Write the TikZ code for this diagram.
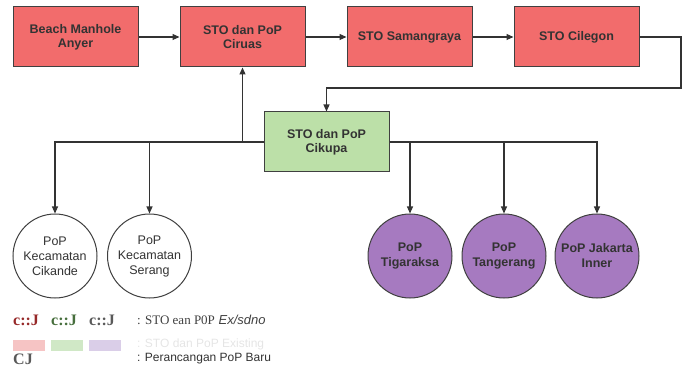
\documentclass[tikz,border=0pt]{standalone}
\usepackage{fontspec}
\setmainfont{Liberation Sans}
\newfontfamily\legserif{Liberation Serif}
\usetikzlibrary{arrows.meta}
\definecolor{stored}{RGB}{242,108,108}
\definecolor{hubgreen}{RGB}{188,224,168}
\definecolor{popviolet}{RGB}{166,122,192}
\definecolor{legpink}{RGB}{246,196,196}
\definecolor{leggreen}{RGB}{208,232,198}
\definecolor{legviolet}{RGB}{218,206,232}
\tikzset{
 stobox/.style={draw=black!75,line width=1pt,fill=stored,minimum width=125pt,minimum height=60pt,align=center,font=\bfseries\fontsize{12.5}{14}\selectfont,text=black!80},
 hubbox/.style={stobox,fill=hubgreen},
 popw/.style={circle,draw=black!75,line width=1pt,fill=white,minimum size=84pt,align=center,inner sep=0pt,font=\fontsize{12.5}{15}\selectfont,text=black!80},
 popv/.style={popw,fill=popviolet,font=\bfseries\fontsize{12.5}{15}\selectfont},
 link/.style={draw=black!80,line width=1.1pt,-{Triangle[length=7pt,width=6pt]}},
 legbox/.style={minimum width=32pt,minimum height=11pt,inner sep=0pt}
}
\begin{document}
\begin{tikzpicture}[x=1pt,y=-1pt]
 \useasboundingbox (0,0) rectangle (688,374);
 %top row
 \node[stobox] (anyer) at (75.5,37) {Beach Manhole\\Anyer};
 \node[stobox] (ciruas) at (242.5,37) {STO dan PoP\\Ciruas};
 \node[stobox] (samang) at (409.5,37) {STO Samangraya};
 \node[stobox] (cilegon) at (576.5,37) {STO Cilegon};
 \draw[link] (anyer) -- (ciruas);
 \draw[link] (ciruas) -- (samang);
 \draw[link] (samang) -- (cilegon);
 %hub
 \node[hubbox] (cikupa) at (326.5,142) {STO dan PoP\\Cikupa};
 \coordinate (turn) at (681,88);
 \draw[link] (cilegon.east) -| (turn) -| (cikupa.north);
 \draw[link] (cikupa.west -| ciruas) -- (ciruas.south);
 %pop
 \node[popw] (cikande) at (55,256) {PoP\\Kecamatan\\Cikande};
 \node[popw] (serang) at (149.5,256) {PoP\\Kecamatan\\Serang};
 \node[popv] (tigaraksa) at (410,256) {PoP\\Tigaraksa};
 \node[popv] (tangerang) at (504,256) {PoP\\Tangerang};
 \node[popv] (jakarta) at (597,256) {PoP Jakarta\\Inner};
 \draw[link] (cikupa.west) -| (cikande.north);
 \draw[link] (cikupa.west) -| (serang.north);
 \draw[link] (cikupa.east) -| (tigaraksa.north);
 \draw[link] (cikupa.east) -| (tangerang.north);
 \draw[link] (cikupa.east) -| (jakarta.north);
 %legend
 \node[anchor=west,inner sep=0pt,font=\legserif\bfseries\fontsize{16}{16}\selectfont,text={rgb,255:red,150;green,40;blue,40}] (lgone) at (13,320) {c::J};
 \node[anchor=west,inner sep=0pt,font=\legserif\bfseries\fontsize{16}{16}\selectfont,text={rgb,255:red,70;green,110;blue,60}] (lgtwo) at (51,320) {c::J};
 \node[anchor=west,inner sep=0pt,font=\legserif\bfseries\fontsize{16}{16}\selectfont,text=black!65] (lgthree) at (89,320) {c::J};
 \node[anchor=west,inner sep=0pt,font=\fontsize{13}{14}\selectfont,text=black!75] (lgtext) at (137,320) {{\legserif : STO ean P0P} \textit{Ex/sdno}};
 \node[legbox,fill=legpink] (lpink) at (29,345.5) {};
 \node[legbox,fill=leggreen] (lgreen) at (67,345.5) {};
 \node[legbox,fill=legviolet] (lviolet) at (105,345.5) {};
 \node[anchor=west,inner sep=0pt,font=\fontsize{12}{14}\selectfont,text=black!10] (lfade) at (137,344) {: STO dan PoP Existing};
 \node[anchor=west,inner sep=0pt,font=\legserif\bfseries\fontsize{16}{16}\selectfont,text=black!65] (lgcj) at (13,359) {CJ};
 \node[anchor=west,inner sep=0pt,font=\fontsize{12}{14}\selectfont,text=black!80] (lgnew) at (137,359) {: Perancangan PoP Baru};
\end{tikzpicture}
\end{document}
